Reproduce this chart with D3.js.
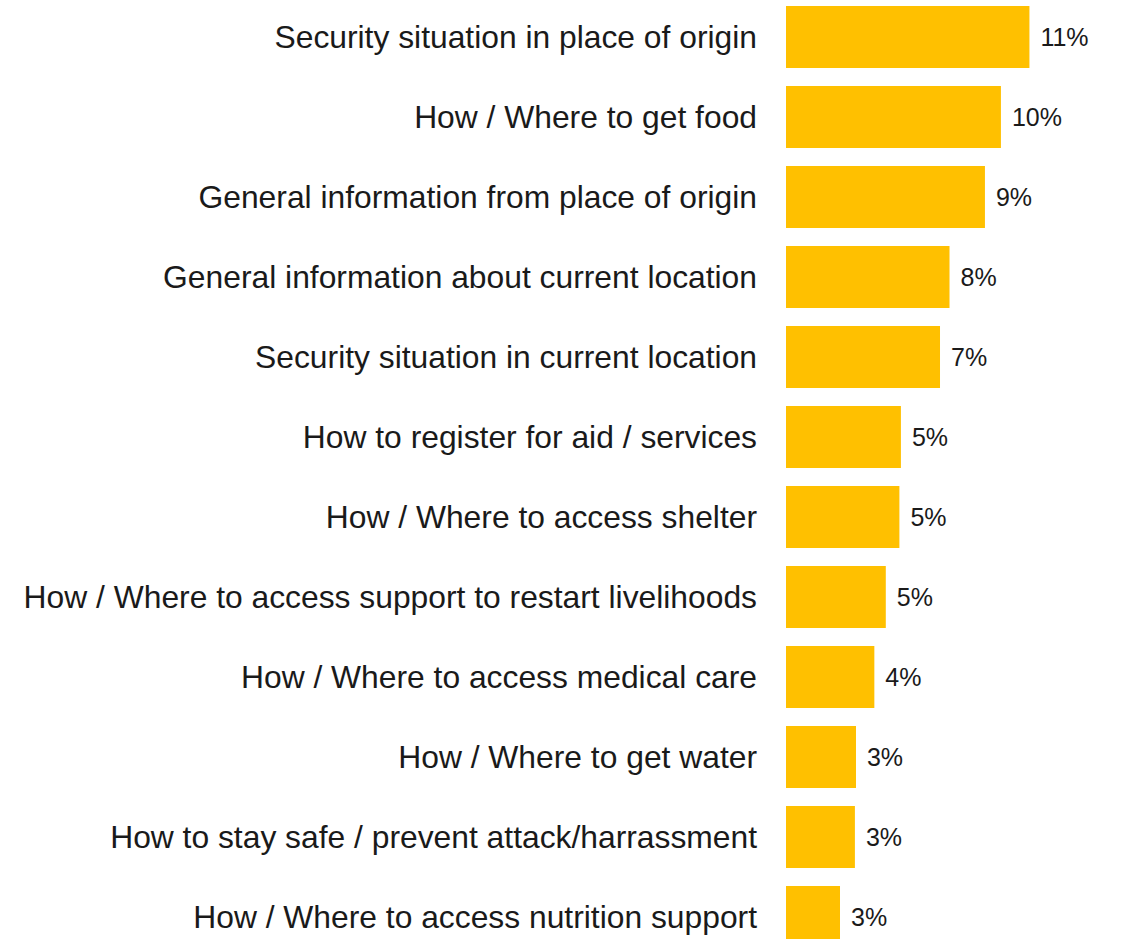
<!DOCTYPE html>
<html>
<head>
<meta charset="utf-8">
<script src="https://cdn.jsdelivr.net/npm/d3@7"></script>
<style>
  body { margin: 0; background: #fff; }
  svg { display: block; }
  .cat { font-family: "Liberation Sans", Arial, sans-serif; font-size: 31.8px; fill: #1a1a1a; }
  .val { font-family: "Liberation Sans", Arial, sans-serif; font-size: 25px; fill: #1a1a1a; }
</style>
</head>
<body>
<svg id="chart" width="1122" height="939"></svg>
<script>
// info needs, share of respondents (%)
let categories = [
  'Security situation in place of origin',
  'How / Where to get food',
  'General information from place of origin',
  'General information about current location',
  'Security situation in current location',
  'How to register for aid / services',
  'How / Where to access shelter',
  'How / Where to access support to restart livelihoods',
  'How / Where to access medical care',
  'How / Where to get water',
  'How to stay safe / prevent attack/harrassment',
  'How / Where to access nutrition support'
];
let values = [11.27, 9.95, 9.21, 7.57, 7.13, 5.32, 5.25, 4.62, 4.09, 3.24, 3.19, 2.5];

let data = categories.map((c, i) => ({label: c, value: values[i]}));

let svg = d3.select('#chart');

let barLeft = 786;
let x = d3.scaleLinear().domain([0, 12]).range([barLeft, barLeft + 259.2]);
let y = d3.scaleBand().domain(categories).range([-3, 957])
  .paddingInner(0.225).paddingOuter(0.1125);

let rows = svg.selectAll('g.row')
  .data(data)
  .enter().append('g')
  .attr('class', 'row');

rows.append('rect')
  .attr('x', x(0))
  .attr('y', d => y(d.label))
  .attr('width', d => x(d.value) - x(0))
  .attr('height', y.bandwidth())
  .attr('fill', '#ffc000');

rows.append('text')
  .attr('class', 'cat')
  .attr('x', 757)
  .attr('y', d => y(d.label) + y.bandwidth() / 2)
  .attr('dy', '0.36em')
  .attr('text-anchor', 'end')
  .text(d => d.label);

rows.append('text')
  .attr('class', 'val')
  .attr('x', d => x(d.value) + 11)
  .attr('y', d => y(d.label) + y.bandwidth() / 2)
  .attr('dy', '0.36em')
  .text(d => Math.round(d.value) + '%');
</script>
</body>
</html>
